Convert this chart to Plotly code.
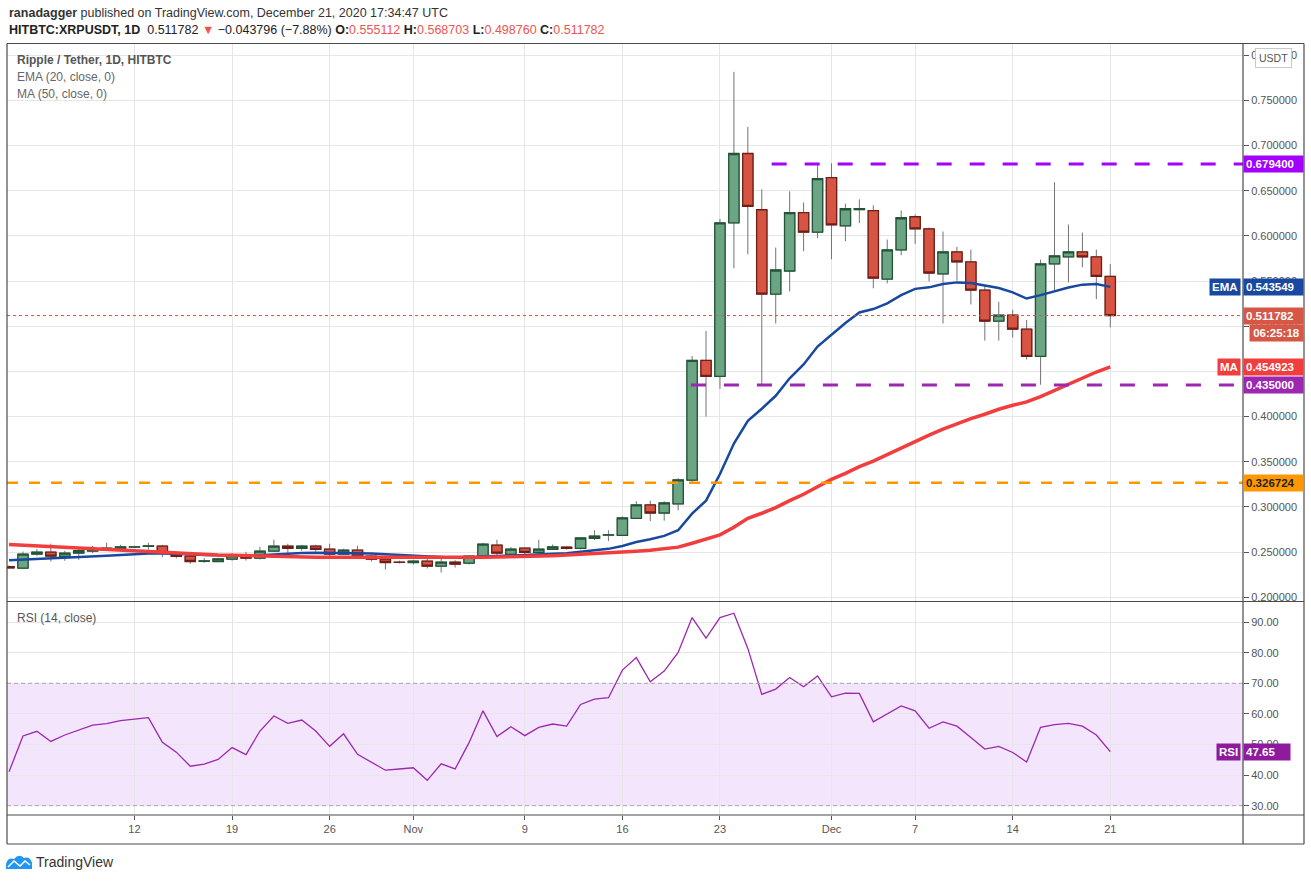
import pandas as pd
import plotly.graph_objects as go

# daily candles, Oct 3 .. Dec 21 2020
dates = pd.date_range("2020-10-03", "2020-12-21", freq="D")

open_ = [
    0.2338, 0.2322, 0.2478, 0.2500, 0.2452, 0.2489, 0.2511, 0.2526, 0.2541, 0.2556,
    0.2565, 0.2567, 0.2489, 0.2456, 0.2398, 0.2396, 0.2422, 0.2456, 0.2433, 0.2511,
    0.2567, 0.2541, 0.2567, 0.2533, 0.2478, 0.2522, 0.2456, 0.2422, 0.2388,
    0.2385, 0.2400, 0.2344, 0.2389, 0.2378, 0.2456, 0.2578, 0.2474, 0.2544, 0.2496,
    0.2530, 0.2556, 0.2541, 0.2652, 0.2689, 0.2685, 0.2874, 0.3022, 0.2933, 0.3033,
    0.3296, 0.4622, 0.4444, 0.6144, 0.6911, 0.6289, 0.5356, 0.5611, 0.6256, 0.6041,
    0.6644, 0.6111, 0.6290, 0.6278, 0.5522, 0.5844, 0.6211, 0.6078, 0.5578, 0.5822,
    0.5711, 0.5400, 0.5056, 0.5122, 0.4967, 0.4667, 0.5689, 0.5767, 0.5822, 0.5767,
    0.555112,
]
high = [
    0.2350, 0.2507, 0.2533, 0.2593, 0.2515, 0.2552, 0.2570, 0.2604, 0.2581, 0.2572,
    0.2604, 0.2581, 0.2507, 0.2489, 0.2433, 0.2437, 0.2489, 0.2504, 0.2559, 0.2637,
    0.2593, 0.2581, 0.2581, 0.2593, 0.2537, 0.2570, 0.2474, 0.2433, 0.2407,
    0.2415, 0.2433, 0.2459, 0.2411, 0.2467, 0.2604, 0.2637, 0.2556, 0.2552, 0.2637,
    0.2585, 0.2563, 0.2659, 0.2741, 0.2741, 0.2896, 0.3063, 0.3070, 0.3063, 0.3319,
    0.4670, 0.4948, 0.6189, 0.7815, 0.7204, 0.6515, 0.5870, 0.6493, 0.6370, 0.6781,
    0.6804, 0.6356, 0.6404, 0.6337, 0.5959, 0.6281, 0.6237, 0.6093, 0.6048, 0.5878,
    0.5848, 0.5452, 0.5270, 0.5181, 0.5070, 0.5737, 0.6593, 0.6126, 0.6037, 0.5848,
    0.568703,
]
low = [
    0.2318, 0.2311, 0.2459, 0.2396, 0.2404, 0.2415, 0.2489, 0.2522, 0.2522, 0.2545,
    0.2526, 0.2444, 0.2430, 0.2370, 0.2381, 0.2393, 0.2404, 0.2407, 0.2419, 0.2504,
    0.2493, 0.2515, 0.2507, 0.2430, 0.2470, 0.2444, 0.2396, 0.2307, 0.2374,
    0.2363, 0.2319, 0.2274, 0.2330, 0.2363, 0.2444, 0.2452, 0.2463, 0.2478, 0.2478,
    0.2522, 0.2526, 0.2530, 0.2633, 0.2622, 0.2681, 0.2870, 0.2844, 0.2848, 0.2963,
    0.3270, 0.4000, 0.4307, 0.5641, 0.5796, 0.4350, 0.5030, 0.5385, 0.5830, 0.5974,
    0.5741, 0.5941, 0.6141, 0.5419, 0.5474, 0.5785, 0.5911, 0.5496, 0.5030, 0.5504,
    0.5241, 0.4841, 0.4841, 0.4874, 0.4630, 0.4352, 0.5393, 0.5485, 0.5652, 0.5300,
    0.498760,
]
close = [
    0.2325, 0.2478, 0.2500, 0.2456, 0.2489, 0.2515, 0.2537, 0.2544, 0.2559, 0.2558,
    0.2568, 0.2489, 0.2452, 0.2396, 0.2402, 0.2426, 0.2459, 0.2433, 0.2511, 0.2567,
    0.2541, 0.2567, 0.2530, 0.2478, 0.2522, 0.2456, 0.2422, 0.2385, 0.2386,
    0.2400, 0.2344, 0.2389, 0.2367, 0.2456, 0.2589, 0.2489, 0.2533, 0.2496, 0.2533,
    0.2559, 0.2541, 0.2656, 0.2678, 0.2690, 0.2878, 0.3022, 0.2933, 0.3044, 0.3300,
    0.4622, 0.4444, 0.6144, 0.6911, 0.6326, 0.5356, 0.5622, 0.6256, 0.6041, 0.6633,
    0.6122, 0.6300, 0.6300, 0.5533, 0.5844, 0.6200, 0.6078, 0.5589, 0.5822, 0.5711,
    0.5400, 0.5056, 0.5122, 0.4967, 0.4667, 0.5689, 0.5778, 0.5822, 0.5767, 0.5551,
    0.511782,
]
ema20 = [
    0.2411, 0.2417, 0.2425, 0.2428, 0.2434, 0.2441, 0.2451, 0.2460, 0.2469, 0.2478,
    0.2486, 0.2486, 0.2483, 0.2475, 0.2468, 0.2464, 0.2464, 0.2461, 0.2466, 0.2475,
    0.2481, 0.2490, 0.2493, 0.2492, 0.2495, 0.2491, 0.2485, 0.2475, 0.2467,
    0.2461, 0.2450, 0.2444, 0.2437, 0.2439, 0.2453, 0.2456, 0.2464, 0.2467, 0.2473,
    0.2481, 0.2487, 0.2503, 0.2520, 0.2536, 0.2568, 0.2611, 0.2642, 0.2680, 0.2742,
    0.2926, 0.3070, 0.3364, 0.3702, 0.3952, 0.4087, 0.4230, 0.4423, 0.4577, 0.4775,
    0.4903, 0.5036, 0.5152, 0.5190, 0.5252, 0.5344, 0.5413, 0.5430, 0.5467, 0.5485,
    0.5478, 0.5448, 0.5422, 0.5374, 0.5306, 0.5344, 0.5385, 0.5429, 0.5460, 0.5468,
    0.543549,
]
ma50 = [
    0.2585, 0.2577, 0.2569, 0.2561, 0.2553, 0.2545, 0.2535, 0.2527, 0.2518, 0.2509,
    0.2500, 0.2492, 0.2486, 0.2480, 0.2474, 0.2469, 0.2465, 0.2460, 0.2455, 0.2451,
    0.2448, 0.2446, 0.2444, 0.2443, 0.2442, 0.2442, 0.2442, 0.2443, 0.2443,
    0.2443, 0.2444, 0.2444, 0.2443, 0.2442, 0.2443, 0.2445, 0.2448, 0.2452, 0.2456,
    0.2461, 0.2467, 0.2474, 0.2482, 0.2490, 0.2500, 0.2510, 0.2520, 0.2535, 0.2555,
    0.2598, 0.2640, 0.2691, 0.2776, 0.2875, 0.2930, 0.2993, 0.3070, 0.3140, 0.3224,
    0.3305, 0.3371, 0.3445, 0.3507, 0.3581, 0.3654, 0.3728, 0.3794, 0.3860, 0.3923,
    0.3978, 0.4026, 0.4081, 0.4125, 0.4162, 0.4221, 0.4290, 0.4364, 0.4430, 0.4493,
    0.454923,
]
rsi14 = [
    41.1, 52.8, 54.3, 51.0, 53.1, 54.7, 56.3, 56.8, 57.8, 58.3,
    58.8, 50.7, 47.5, 42.9, 43.6, 45.1, 49.0, 46.7, 54.4, 59.3,
    56.9, 58.0, 54.4, 49.4, 53.5, 46.8, 44.2, 41.6, 42.0,
    42.4, 38.3, 43.7, 42.0, 50.6, 61.0, 52.6, 55.8, 52.9, 55.6,
    56.7, 56.0, 63.1, 64.8, 65.3, 74.3, 78.4, 70.5, 74.0, 80.1,
    91.5, 84.8, 91.5, 92.9, 81.4, 66.4, 68.1, 71.9, 68.9, 72.4,
    65.6, 66.8, 66.7, 57.4, 59.9, 62.6, 61.0, 55.3, 57.4, 56.0,
    52.3, 48.5, 49.4, 47.4, 44.3, 55.6, 56.5, 56.9, 56.0, 53.1,
    47.65,
]

tick_dates = ["2020-10-12", "2020-10-19", "2020-10-26", "2020-11-01", "2020-11-09",
              "2020-11-16", "2020-11-23", "2020-12-01", "2020-12-07", "2020-12-14",
              "2020-12-21"]
tick_labels = ["12", "19", "26", "Nov", "9", "16", "23", "Dec", "7", "14", "21"]

resistance = 0.6794
support = 0.435
breakout = 0.326724
resistance_from = "2020-11-26 17:00"
support_from = "2020-11-20 22:00"

x_range = ["2020-10-02 20:30", "2020-12-30 12:30"]

FONT = "Liberation Sans, Arial, sans-serif"
GREEN, GREEN_EDGE = "#6ba583", "#225437"
RED, RED_EDGE = "#d75442", "#6f1e16"


# pixel -> paper helpers (plot area is x 7..1243, y 44..815)
def px(x):
    return (x - 7) / 1236


def py(y):
    return (815 - y) / 771


body_hi = [max(o, c) for o, c in zip(open_, close)]
body_lo = [min(o, c) for o, c in zip(open_, close)]

fig = go.Figure()

# wicks
fig.add_trace(go.Candlestick(
    x=dates, open=open_, high=high, low=low, close=close,
    increasing=dict(line=dict(color="#747474", width=1), fillcolor=GREEN),
    decreasing=dict(line=dict(color="#747474", width=1), fillcolor=RED),
    whiskerwidth=0, hoverinfo="skip", yaxis="y"))
# bodies with dark outline
fig.add_trace(go.Candlestick(
    x=dates, open=open_, high=body_hi, low=body_lo, close=close,
    increasing=dict(line=dict(color=GREEN_EDGE, width=1.3), fillcolor=GREEN),
    decreasing=dict(line=dict(color=RED_EDGE, width=1.3), fillcolor=RED),
    whiskerwidth=0, yaxis="y"))

fig.add_trace(go.Scatter(x=dates, y=ema20, mode="lines", yaxis="y",
                         line=dict(color="#1848a0", width=2.5), hoverinfo="skip"))
fig.add_trace(go.Scatter(x=dates, y=ma50, mode="lines", yaxis="y",
                         line=dict(color="#f23d3d", width=3.5), hoverinfo="skip"))
fig.add_trace(go.Scatter(x=dates, y=rsi14, mode="lines", yaxis="y2",
                         line=dict(color="#9c27b0", width=1.3), hoverinfo="skip"))

shapes = [
    # RSI band
    dict(type="rect", xref="paper", yref="y2", x0=0, x1=1, y0=30, y1=70,
         fillcolor="#f3e5fc", line=dict(width=0), layer="below"),
    dict(type="line", xref="paper", yref="y2", x0=0, x1=1, y0=70, y1=70,
         line=dict(color="#aaa2b2", width=1, dash="4px,3px")),
    dict(type="line", xref="paper", yref="y2", x0=0, x1=1, y0=30, y1=30,
         line=dict(color="#aaa2b2", width=1, dash="4px,3px")),
    # levels
    dict(type="line", xref="paper", yref="y", x0=0, x1=1, y0=breakout, y1=breakout,
         line=dict(color="#ff9800", width=2.5, dash="11px,11px")),
    dict(type="line", xref="x", yref="y", x0=resistance_from, x1=x_range[1],
         y0=resistance, y1=resistance, line=dict(color="#a300ff", width=3, dash="15px,18px")),
    dict(type="line", xref="x", yref="y", x0=support_from, x1=x_range[1],
         y0=support, y1=support, line=dict(color="#9c27b0", width=3, dash="15px,18px")),
    dict(type="line", xref="paper", yref="y", x0=0, x1=1, y0=close[-1], y1=close[-1],
         line=dict(color="#d65745", width=1, dash="dot")),
]

frame = "#4a4a4a"
for x0, y0, x1, y1 in [(7, 43.5, 7, 844), (7, 43.5, 1304, 43.5), (1304, 43.5, 1304, 844),
                       (7, 844, 1304, 844), (1243, 43.5, 1243, 844),
                       (7, 601.5, 1304, 601.5), (7, 815, 1304, 815)]:
    shapes.append(dict(type="line", xref="paper", yref="paper",
                       x0=px(x0), y0=py(y0), x1=px(x1), y1=py(y1),
                       line=dict(color=frame, width=1.2), layer="above"))

# TradingView logo
logo = (f"M {px(6)},{py(869)} L {px(6)},{py(864)} Q {px(8)},{py(857)} {px(14)},{py(859)} "
        f"Q {px(19)},{py(853)} {px(24)},{py(858)} Q {px(30)},{py(856)} {px(32)},{py(863)} "
        f"L {px(32)},{py(869)} Z")
shapes.append(dict(type="path", xref="paper", yref="paper", path=logo,
                   fillcolor="#2196f3", line=dict(width=0)))
zig = (f"M {px(8)},{py(867)} L {px(14)},{py(861)} L {px(20)},{py(866)} "
       f"L {px(25)},{py(861)} L {px(30)},{py(865)}")
shapes.append(dict(type="path", xref="paper", yref="paper", path=zig,
                   line=dict(color="white", width=1.6)))

red_txt = "#ef5350"
annotations = [
    dict(x=0, y=py(13), xref="paper", yref="paper", xanchor="left", yanchor="middle",
         showarrow=False, font=dict(size=12.5, color="#333"),
         text="<b>ranadagger</b> published on TradingView.com, December 21, 2020 17:34:47 UTC"),
    dict(x=0, y=py(30), xref="paper", yref="paper", xanchor="left", yanchor="middle",
         showarrow=False, font=dict(size=12.5, color="#222"),
         text=(f"<b>HITBTC:XRPUSDT, 1D</b>  0.511782 <span style='color:{red_txt}'>▼</span> "
               f"−0.043796 (−7.88%) <b>O:</b><span style='color:{red_txt}'>0.555112</span> "
               f"<b>H:</b><span style='color:{red_txt}'>0.568703</span> "
               f"<b>L:</b><span style='color:{red_txt}'>0.498760</span> "
               f"<b>C:</b><span style='color:{red_txt}'>0.511782</span>")),
    dict(x=px(15), y=py(60), xref="paper", yref="paper", xanchor="left", yanchor="middle",
         showarrow=False, font=dict(size=12, color="#555"),
         text="<b>Ripple / Tether, 1D, HITBTC</b>"),
    dict(x=px(15), y=py(77), xref="paper", yref="paper", xanchor="left", yanchor="middle",
         showarrow=False, font=dict(size=12, color="#666"), text="EMA (20, close, 0)"),
    dict(x=px(15), y=py(94), xref="paper", yref="paper", xanchor="left", yanchor="middle",
         showarrow=False, font=dict(size=12, color="#666"), text="MA (50, close, 0)"),
    dict(x=px(15), y=py(618), xref="paper", yref="paper", xanchor="left", yanchor="middle",
         showarrow=False, font=dict(size=12, color="#555"), text="RSI (14, close)"),
    dict(x=px(1273), y=py(58), xref="paper", yref="paper", xanchor="center", yanchor="middle",
         showarrow=False, font=dict(size=10.5, color="#555"), text="USDT",
         bgcolor="white", bordercolor="#c8c8d0", borderwidth=1, borderpad=3),
    dict(x=px(34), y=py(862), xref="paper", yref="paper", xanchor="left", yanchor="middle",
         showarrow=False, font=dict(size=14, color="#333"), text="TradingView"),
]


def value_tag(yval, yref, text, bg, fg="white", w=55):
    return dict(x=1.0, y=yval, xref="paper", yref=yref, xanchor="left", yanchor="middle",
                showarrow=False, text=f"<b>{text}</b>", font=dict(size=11.5, color=fg),
                bgcolor=bg, width=w, align="left", borderpad=2)


def name_tag(yval, yref, text, bg):
    return dict(x=px(1241), y=yval, xref="paper", yref=yref, xanchor="right",
                yanchor="middle", showarrow=False, text=f"<b>{text}</b>",
                font=dict(size=11.5, color="white"), bgcolor=bg, borderpad=2)


annotations += [
    value_tag(resistance, "y", f"{resistance:.6f}", "#a300ff"),
    value_tag(ema20[-1], "y", f"{ema20[-1]:.6f}", "#1848a0"),
    name_tag(ema20[-1], "y", "EMA", "#1848a0"),
    value_tag(close[-1], "y", f"{close[-1]:.6f}", "#d65745"),
    dict(x=px(1249), y=py(333), xref="paper", yref="paper", xanchor="left", yanchor="middle",
         showarrow=False, text="<b>06:25:18</b>", font=dict(size=11.5, color="white"),
         bgcolor="#d65745", width=49, borderpad=2),
    value_tag(ma50[-1], "y", f"{ma50[-1]:.6f}", "#f23d3d"),
    name_tag(ma50[-1], "y", "MA", "#f23d3d"),
    value_tag(support, "y", f"{support:.6f}", "#9c27b0"),
    value_tag(breakout, "y", f"{breakout:.6f}", "#ff9800", fg="#222"),
    value_tag(rsi14[-1], "y2", f"{rsi14[-1]:.2f}", "#8e1a9c", w=42),
    name_tag(rsi14[-1], "y2", "RSI", "#8e1a9c"),
]

grid = "#e6e6e6"
fig.update_layout(
    width=1311, height=881,
    margin=dict(l=7, r=68, t=44, b=66),
    paper_bgcolor="white", plot_bgcolor="white",
    showlegend=False,
    boxgap=0.14, boxgroupgap=0.14,
    font=dict(family=FONT, color="#555"),
    xaxis=dict(type="date", range=x_range, anchor="y2", tickvals=tick_dates,
               ticktext=tick_labels, showgrid=True, gridcolor=grid, gridwidth=1,
               ticks="outside", ticklen=4, tickcolor="#555",
               tickfont=dict(size=11, color="#555"), showline=False, zeroline=False,
               rangeslider=dict(visible=False)),
    yaxis=dict(domain=[py(601), 1], range=[0.1959, 0.8123], side="right", anchor="x",
               tick0=0, dtick=0.05, tickformat=".6f", showgrid=True, gridcolor=grid,
               ticks="outside", ticklen=5, tickcolor="#555",
               tickfont=dict(size=11, color="#555"), zeroline=False, showline=False),
    yaxis2=dict(domain=[0, py(602)], range=[26.96, 96.57], side="right", anchor="x",
                tick0=0, dtick=10, tickformat=".2f", showgrid=True, gridcolor=grid,
                ticks="outside", ticklen=5, tickcolor="#555",
                tickfont=dict(size=11, color="#555"), zeroline=False, showline=False),
    shapes=shapes,
    annotations=annotations,
)

# the page's default 8px body margin would shift the chart off the window
fig.write_html("out.html", config={"displayModeBar": False},
               post_script="document.body.style.margin='0';document.body.style.overflow='hidden';")
